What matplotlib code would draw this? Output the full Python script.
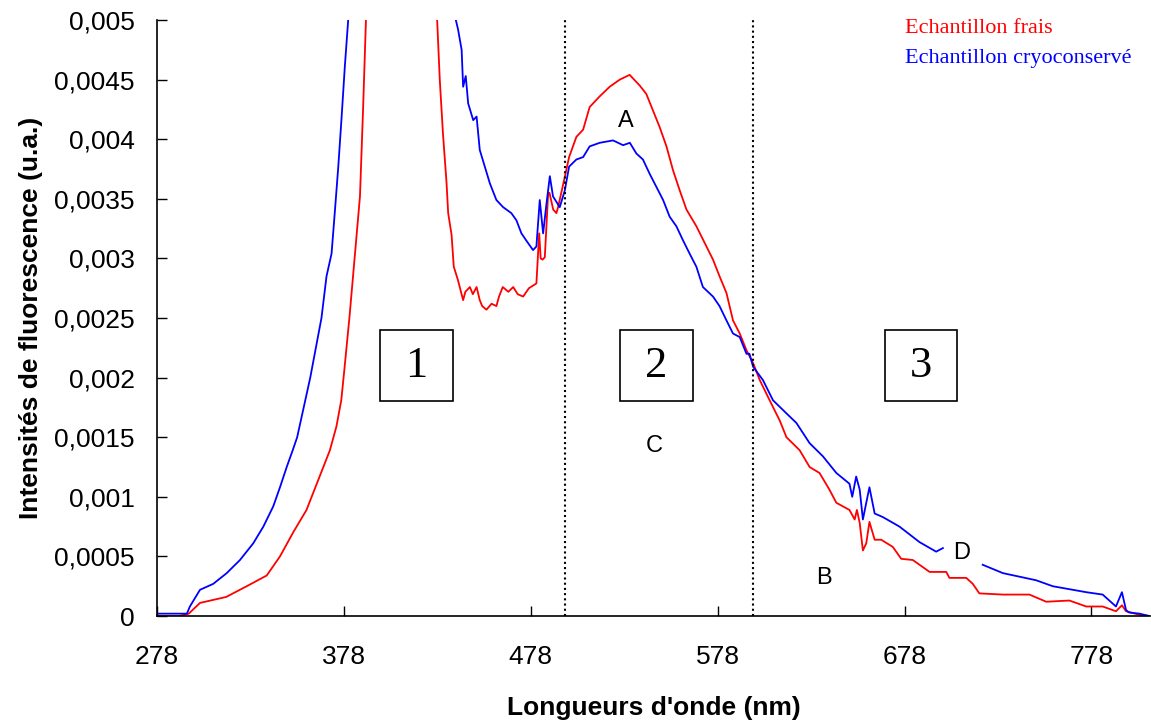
import numpy as np
import matplotlib.pyplot as plt
from matplotlib.patches import Rectangle

# Echantillon frais (rouge)
frais_nm = [278, 290, 295, 301, 315, 326, 336.7, 343.8, 350.8, 358, 365, 370.5, 374, 376.6, 378.4,
            381, 383, 386.6, 388.3, 389.8, 395, 410, 425, 427.9, 429.3, 431, 432.9, 433.8, 435.6,
            436.8, 439, 441.8, 443, 445.4, 447, 449, 450.7, 452, 454.3, 457, 459.6, 461, 463, 466,
            468.6, 471, 473.9, 477, 481, 482.5, 483.3, 484.3, 485.5, 487.3, 488, 490, 491.7, 492.6,
            495.3, 498.5, 502.4, 506, 509.5, 514.9, 520.2, 525.6, 530.9, 536.3, 539.8, 543.4, 547,
            550.6, 554.1, 557.7, 561.3, 566.6, 572, 575.5, 579, 582.7, 586.2, 589.8, 593.4, 597,
            600.5, 605.8, 611.2, 614.8, 621.9, 627.2, 632.5, 637.8, 641.5, 648.5, 651.3, 652.5, 654,
            655.7, 657.5, 659.2, 662, 665.5, 671.7, 676.2, 682.4, 691.4, 700.3, 702, 711, 714.5, 718,
            730.6, 744.8, 753.8, 766.2, 775.2, 784, 791.1, 794.3, 796.5, 803.7, 809]
frais_val = [0, 0, 0.00002, 0.00011, 0.00016, 0.00025, 0.00034, 0.0005, 0.0007, 0.00089, 0.00117,
             0.00139, 0.00159, 0.00181, 0.00209, 0.00251, 0.00287, 0.00352, 0.00427, 0.005, 0.008,
             0.010, 0.007, 0.005, 0.0045, 0.00405, 0.00364, 0.00338, 0.0032, 0.00293, 0.00282,
             0.00265, 0.00272, 0.00276, 0.0027, 0.00276, 0.00265, 0.0026, 0.00257, 0.00262, 0.0026,
             0.00268, 0.00276, 0.00272, 0.00276, 0.0027, 0.00268, 0.00275, 0.00279, 0.00321, 0.003,
             0.00299, 0.00301, 0.00355, 0.00355, 0.00341, 0.00338, 0.00343, 0.00362, 0.00385,
             0.00402, 0.00408, 0.00427, 0.00436, 0.00444, 0.0045, 0.00454, 0.00445, 0.00438, 0.00424,
             0.0041, 0.00394, 0.00374, 0.00357, 0.00341, 0.00327, 0.0031, 0.00299, 0.00285, 0.00271,
             0.00248, 0.00237, 0.00223, 0.00212, 0.00198, 0.00181, 0.00164, 0.0015, 0.00139, 0.00125,
             0.0012, 0.00106, 0.00095, 0.00089, 0.00081, 0.00089, 0.00078, 0.00055, 0.00061, 0.00079,
             0.00064, 0.00064, 0.00058, 0.00048, 0.00047, 0.00037, 0.00037, 0.00032, 0.00032,
             0.00027, 0.00019, 0.00018, 0.00018, 0.00012, 0.00013, 0.00008, 0.00008, 0.00004,
             0.00009, 0.00004, 0.00001, 0]

# Echantillon cryoconserve (bleu), trou entre 698 et 720 nm
cryo_nm = [278, 294, 295.6, 301, 308.1, 315.3, 322.4, 329.5, 334.9, 340.2, 343.8, 347.4, 350.6, 353,
           360, 366, 368.7, 371.4, 373.2, 375, 376.8, 378.5, 380.3, 390, 410, 430, 437.9, 439.1, 441,
           441.8, 443.2, 444.5, 447.2, 449, 450.7, 453.4, 456.1, 459.6, 463.2, 467.6, 470.3, 473,
           475.6, 479.2, 481, 482.8, 484.6, 486.4, 488.2, 489.9, 493.5, 496.2, 498.5, 502.4, 506,
           509.5, 514.9, 522, 527.4, 531, 534.5, 538, 541.6, 545.2, 548.8, 552.3, 555.9, 559.5, 563,
           566.6, 570.1, 575.5, 579, 582.7, 586.2, 589.8, 593.4, 595, 597, 602.2, 607.6, 614.8,
           620.1, 627.2, 634.3, 641.5, 648.5, 650, 652.1, 654, 655.7, 657.5, 659.2, 662, 666.4,
           675.3, 686, 694.9, 698.5, 709, 719.8, 730.6, 748.4, 757.3, 775.2, 784, 791.1, 794.3,
           796.5, 798.1, 803.7, 809]
cryo_val = [0.00002, 0.00002, 0.00008, 0.00022, 0.00027, 0.00036, 0.00047, 0.00061, 0.00075, 0.00092,
            0.00108, 0.00125, 0.00139, 0.0015, 0.002, 0.0025, 0.00285, 0.00304, 0.0034, 0.00377,
            0.00419, 0.00461, 0.005, 0.009, 0.012, 0.008, 0.005, 0.00492, 0.00475, 0.00444, 0.00453,
            0.0043, 0.00416, 0.00419, 0.00391, 0.00377, 0.00363, 0.00349, 0.00343, 0.00338, 0.00332,
            0.00321, 0.00315, 0.00307, 0.0031, 0.00349, 0.00321, 0.00346, 0.00369, 0.00352, 0.00343,
            0.00357, 0.00377, 0.00383, 0.00385, 0.00394, 0.00397, 0.00399, 0.00395, 0.00397, 0.00388,
            0.00383, 0.00371, 0.0036, 0.00349, 0.00335, 0.00327, 0.00315, 0.00304, 0.00293, 0.00276,
            0.00268, 0.0026, 0.00248, 0.00237, 0.00234, 0.0022, 0.0022, 0.00209, 0.00198, 0.00181,
            0.0017, 0.00162, 0.00145, 0.00134, 0.0012, 0.00111, 0.001, 0.00117, 0.00106, 0.00081,
            0.00095, 0.00108, 0.00086, 0.00083, 0.00075, 0.00062, 0.00054, 0.00057, np.nan, 0.00043,
            0.00036, 0.0003, 0.00025, 0.0002, 0.00018, 0.00008, 0.0002, 0.00005, 0.00003, 0.00002, 0]

xticks = [278, 378, 478, 578, 678, 778]
yticks = [0, 0.0005, 0.001, 0.0015, 0.002, 0.0025, 0.003, 0.0035, 0.004, 0.0045, 0.005]
ytick_labels = ['0', '0,0005', '0,001', '0,0015', '0,002', '0,0025', '0,003', '0,0035', '0,004',
                '0,0045', '0,005']
zone_limits = [496.2, 596.7]
zones = ['1', '2', '3']
zone_x = [397.2, 525.6, 667.3]
letters = ['A', 'B', 'C', 'D']
letters_x = [529, 635, 544.3, 708.5]
letters_y = [0.00415, 0.00032, 0.00143, 0.00053]

plt.rcParams['font.family'] = ['Liberation Sans', 'DejaVu Sans']

fig = plt.figure(figsize=(11.51, 7.2), dpi=100)
ax = fig.add_axes([0.1364, 0.1444, 0.8627, 0.8278])

ax.plot(frais_nm, frais_val, color='#ff0000', lw=1.3)
ax.plot(cryo_nm, cryo_val, color='#0000ff', lw=1.3)

for xl in zone_limits:
    ax.axvline(xl, color='black', lw=1.5, linestyle=(0, (1, 1.5)))

# cadres numerotes
for z, x0 in zip(zones, zone_x):
    ax.add_patch(Rectangle((x0, 0.0018), 39, 0.0006, fill=False, edgecolor='black', lw=1.2))
    ax.text(x0 + 19.5, 0.0021, z, ha='center', va='center', fontsize=32,
            family='Liberation Serif')

for t, x, y in zip(letters, letters_x, letters_y):
    ax.text(x, y, t, ha='center', va='center', fontsize=17)

ax.set_xlim(278, 809.3)
ax.set_ylim(0, 0.005)
ax.set_xticks(xticks)
ax.set_yticks(yticks)
ax.set_yticklabels(ytick_labels)
ax.tick_params(direction='in', length=7, width=1, labelsize=19)
ax.tick_params(axis='x', pad=21)
ax.tick_params(axis='y', pad=16)
ax.spines['top'].set_visible(False)
ax.spines['right'].set_visible(False)
ax.spines['left'].set_linewidth(1.2)
ax.spines['bottom'].set_linewidth(1.2)

ax.set_xlabel("Longueurs d'onde (nm)", fontsize=19, fontweight='bold', labelpad=19)
ax.set_ylabel('Intensités de fluorescence (u.a.)', fontsize=19, fontweight='bold', labelpad=8)

fig.text(0.786, 0.960, 'Echantillon frais', color='#ff0000', fontsize=16,
         family='Liberation Serif', va='center')
fig.text(0.786, 0.919, 'Echantillon cryoconservé', color='#0000ff', fontsize=16,
         family='Liberation Serif', va='center')

fig.savefig('out.png', dpi=100)
